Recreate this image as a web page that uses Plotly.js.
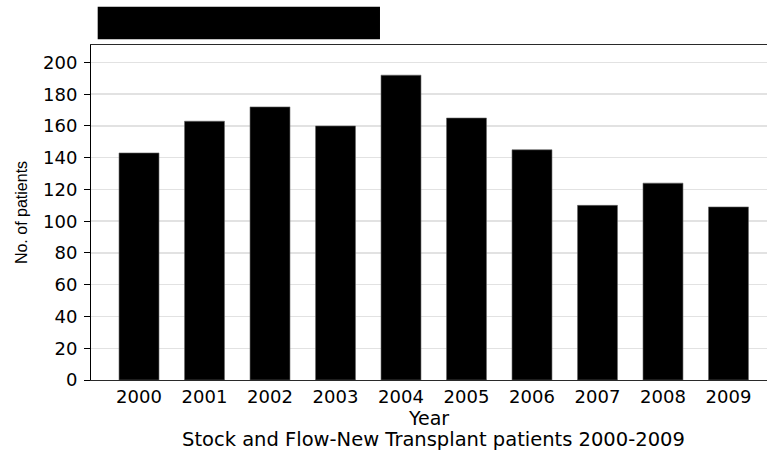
<!DOCTYPE html>
<html>
<head>
<meta charset="utf-8">
<script src="https://cdn.plot.ly/plotly-3.0.1.min.js"></script>
<style>
html, body { margin: 0; padding: 0; overflow: hidden; background: #fff; }
#chart { width: 767px; height: 452px; }
</style>
</head>
<body>
<div id="chart"></div>
<script>
const years = ['2000', '2001', '2002', '2003', '2004', '2005', '2006', '2007', '2008', '2009'];
const patients = [143, 163, 172, 160, 192, 165, 145, 110, 124, 109];
const yTicks = [0, 20, 40, 60, 80, 100, 120, 140, 160, 180, 200];
const xTitle = 'Year';
const yTitle = 'No. of patients';
const caption = 'Stock and Flow-New Transplant patients 2000-2009';

const FONT = 'DejaVu Sans, Liberation Sans, Arial, sans-serif';
const ARIAL = 'Liberation Sans, Arial, sans-serif';

const trace = {
  type: 'bar',
  x: years,
  y: patients,
  marker: { color: '#000000', line: { color: '#666666', width: 0.6 } },
  hoverinfo: 'x+y'
};

const layout = {
  width: 767,
  height: 452,
  margin: { l: 91, r: 0, t: 45, b: 72 },
  paper_bgcolor: '#ffffff',
  plot_bgcolor: '#ffffff',
  showlegend: false,
  bargap: 0.39,
  font: { family: FONT, color: '#000000' },
  xaxis: {
    type: 'category',
    range: [-0.733, 9.588],
    showgrid: false,
    showline: true,
    mirror: true,
    linecolor: '#2a2a2a',
    linewidth: 1.3,
    ticks: '',
    tickfont: { family: FONT, size: 18, color: '#000000' },
    ticklabelstandoff: 0,
    title: { text: xTitle, font: { family: FONT, size: 19, color: '#000000' }, standoff: 1 },
    zeroline: false,
    fixedrange: true
  },
  yaxis: {
    range: [0, 211],
    tickvals: yTicks,
    ticktext: yTicks.map(String),
    showgrid: true,
    gridcolor: '#e2e2e2',
    gridwidth: 1.5,
    showline: true,
    linecolor: '#000000',
    linewidth: 1,
    ticks: 'outside',
    ticklen: 6,
    tickcolor: '#000000',
    tickfont: { family: FONT, size: 18, color: '#000000' },
    ticklabelstandoff: 3,
    title: { text: yTitle, font: { family: ARIAL, size: 16, color: '#000000' }, standoff: 11 },
    zeroline: false,
    fixedrange: true
  },
  shapes: [
    { type: 'rect', xref: 'paper', yref: 'paper', x0: 0.0099, x1: 0.4275, y0: 1.017, y1: 1.1143,
      fillcolor: '#000000', line: { color: 'rgba(0,0,0,0)', width: 1 } }
  ],
  annotations: [
    { text: caption, xref: 'paper', yref: 'paper', x: 0.5067, y: -0.178,
      xanchor: 'center', yanchor: 'middle', showarrow: false,
      font: { family: FONT, size: 19.5, color: '#000000' } }
  ]
};

Plotly.newPlot('chart', [trace], layout, { displayModeBar: false, staticPlot: true });
</script>
</body>
</html>
